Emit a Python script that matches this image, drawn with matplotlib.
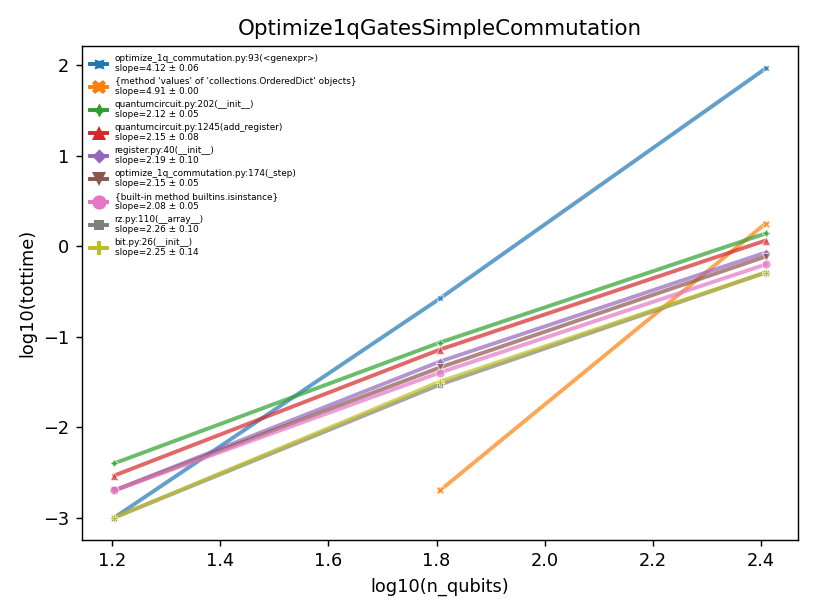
import numpy as np
import matplotlib
matplotlib.use("Agg")
import matplotlib.pyplot as plt

n_qubits = [16, 64, 256]
names = [
    "optimize_1q_commutation.py:93(<genexpr>)",
    "{method 'values' of 'collections.OrderedDict' objects}",
    "quantumcircuit.py:202(__init__)",
    "quantumcircuit.py:1245(add_register)",
    "register.py:40(__init__)",
    "optimize_1q_commutation.py:174(_step)",
    "{built-in method builtins.isinstance}",
    "rz.py:110(__array__)",
    "bit.py:26(__init__)",
]
slopes = ["4.12 ± 0.06", "4.91 ± 0.00", "2.12 ± 0.05", "2.15 ± 0.08", "2.19 ± 0.10",
          "2.15 ± 0.05", "2.08 ± 0.05", "2.26 ± 0.10", "2.25 ± 0.14"]
blue_y = [-3.0, -0.577, 1.967]
orange_y = [None, -2.70, 0.252]
green_y = [-2.40, -1.064, 0.142]
red_y = [-2.535, -1.142, 0.064]
purple_y = [-2.70, -1.274, -0.069]
brown_y = [-2.70, -1.34, -0.113]
pink_y = [-2.70, -1.396, -0.201]
gray_y = [-3.0, -1.529, -0.29]
olive_y = [-3.0, -1.496, -0.29]
series = [blue_y, orange_y, green_y, red_y, purple_y, brown_y, pink_y, gray_y, olive_y]
colors = ["#1f77b4", "#ff7f0e", "#2ca02c", "#d62728", "#9467bd", "#8c564b", "#e377c2", "#7f7f7f", "#bcbd22"]
markers = [(4, 1, 45), "X", (4, 1, 0), "^", (4, 0, 0), "v", "o", (4, 0, 45), "P"]

fig = plt.figure(figsize=(817/128, 613/128), dpi=128)
ax = fig.add_axes([0.1, 0.119, 0.877, 0.806])
x = np.log10(n_qubits)
for name, sl, ys, c, m in zip(names, slopes, series, colors, markers):
    xs = [xi for xi, yi in zip(x, ys) if yi is not None]
    yv = [yi for yi in ys if yi is not None]
    ax.plot(xs, yv, color=c, marker=m, lw=2.2, alpha=0.7, markersize=5,
            markeredgecolor="white", markeredgewidth=0.5,
            label=f"{name}\nslope={sl}")
ax.set_xlabel("log10(n_qubits)")
ax.set_ylabel("log10(tottime)")
ax.set_title("Optimize1qGatesSimpleCommutation", fontsize=12)
ax.set_yticks([-3, -2, -1, 0, 1, 2])
ax.set_yticklabels(["\u22123", "\u22122", "\u22121", "0", "1", "2"])
ax.set_xticks([1.2, 1.4, 1.6, 1.8, 2.0, 2.2, 2.4])
leg = ax.legend(loc="upper left", fontsize=5, frameon=False, markerscale=1.6,
                handlelength=2.0, labelspacing=0.4)
for lh in leg.get_lines():
    lh.set_alpha(1)
    lh.set_markeredgewidth(0)
fig.savefig("out.png", dpi=128)
